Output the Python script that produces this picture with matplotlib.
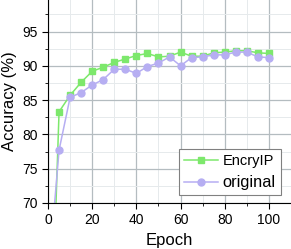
import numpy as np
import matplotlib.pyplot as plt
from matplotlib.ticker import MultipleLocator

plt.rcParams['font.family'] = ['Liberation Sans', 'DejaVu Sans']

# epoch 1 values lie below the visible range (only the line segments show)
epochs = [1, 5, 10, 15, 20, 25, 30, 35, 40, 45, 50,
          55, 60, 65, 70, 75, 80, 85, 90, 95, 100]
encryip = [45.0, 83.3, 85.7, 87.6, 89.2, 89.8, 90.5, 91.0, 91.5, 91.8, 91.3,
           91.4, 92.0, 91.4, 91.4, 91.9, 92.0, 92.2, 92.2, 91.9, 91.8]
original = [62.3, 77.7, 85.4, 86.1, 87.2, 88.0, 89.5, 89.5, 88.9, 89.9, 90.4,
            91.3, 90.0, 91.2, 91.3, 91.6, 91.6, 92.0, 92.0, 91.3, 91.2]

fig = plt.figure(figsize=(2.91, 2.49), dpi=100)
ax = fig.add_axes([0.165, 0.185, 0.835, 0.815])

ax.plot(epochs, encryip, color='#7de86c', marker='s', markersize=4.5,
        linewidth=1.1, label='EncryIP')
ax.plot(epochs, original, color='#b6aef2', marker='o', markersize=5,
        linewidth=1.1, label='original')

ax.set_xlim(0, 110)
ax.set_ylim(70, 99.6)
ax.xaxis.set_major_locator(MultipleLocator(20))
ax.xaxis.set_minor_locator(MultipleLocator(10))
ax.yaxis.set_major_locator(MultipleLocator(5))
ax.yaxis.set_minor_locator(MultipleLocator(2.5))

ax.grid(which='major', color='#b4bcc0', linewidth=0.9)
ax.grid(which='minor', color='#e6eaec', linewidth=0.7)
ax.set_axisbelow(True)

ax.spines['top'].set_visible(False)
ax.spines['right'].set_visible(False)
ax.tick_params(which='major', direction='out', length=4, labelsize=10)
ax.tick_params(which='minor', direction='out', length=2)

ax.set_xlabel('Epoch', fontsize=12)
ax.set_ylabel('Accuracy (%)', fontsize=12)

leg = ax.legend(loc='lower right', fontsize=11, fancybox=False,
                edgecolor='#808080', framealpha=1, handlelength=2.2,
                handletextpad=0.3, borderpad=0.35, labelspacing=0.45,
                borderaxespad=0.5, bbox_to_anchor=(0.99, 0.0))
leg.get_frame().set_linewidth(0.8)
leg.get_texts()[0].set_fontsize(10.5)
leg.get_texts()[1].set_fontsize(11.8)

fig.savefig('out.png', dpi=100)
